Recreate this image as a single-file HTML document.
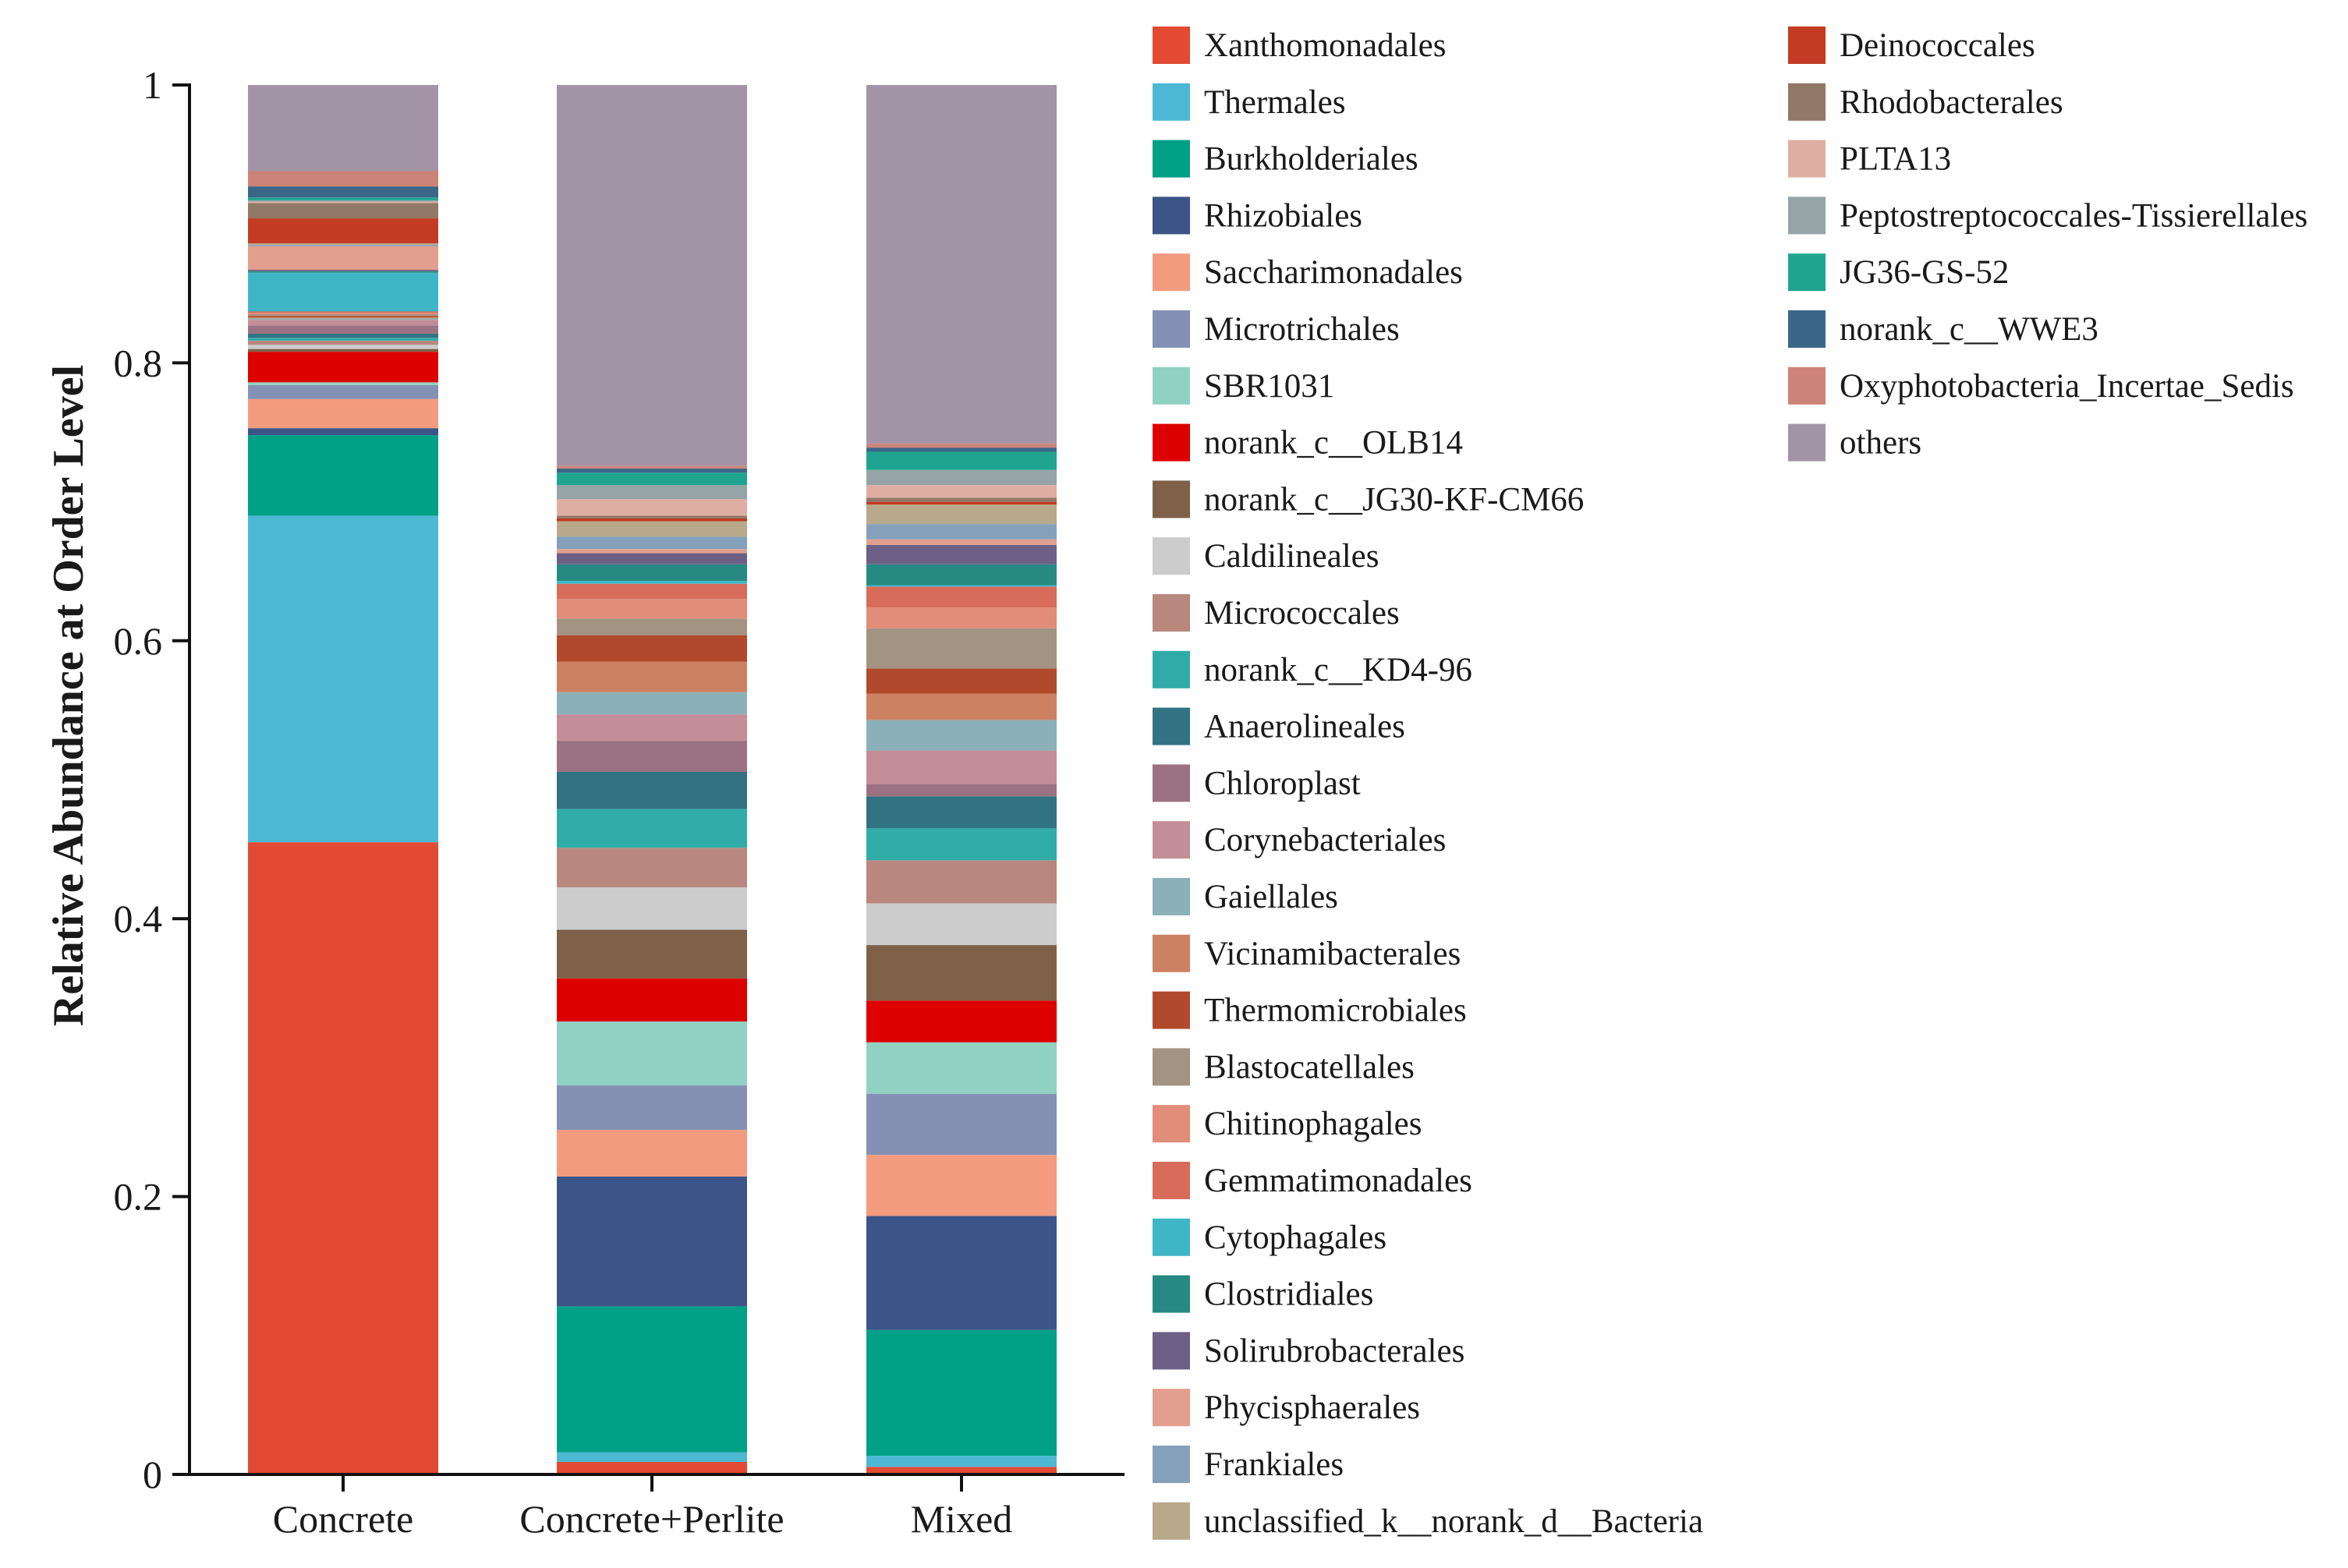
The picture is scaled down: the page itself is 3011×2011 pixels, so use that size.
<!DOCTYPE html>
<html><head><meta charset="utf-8">
<style>
html,body{margin:0;padding:0;background:#fff;}
svg{display:block;}
text{font-family:"Liberation Serif",serif;fill:#1a1a1a;}
</style></head>
<body>
<svg id="chart" width="3011" height="2011" viewBox="0 0 3011 2011" xmlns="http://www.w3.org/2000/svg"></svg>
<script>
const categories = ["Concrete","Concrete+Perlite","Mixed"];
const seriesNames = ["Xanthomonadales","Thermales","Burkholderiales","Rhizobiales","Saccharimonadales","Microtrichales","SBR1031","norank_c__OLB14","norank_c__JG30-KF-CM66","Caldilineales","Micrococcales","norank_c__KD4-96","Anaerolineales","Chloroplast","Corynebacteriales","Gaiellales","Vicinamibacterales","Thermomicrobiales","Blastocatellales","Chitinophagales","Gemmatimonadales","Cytophagales","Clostridiales","Solirubrobacterales","Phycisphaerales","Frankiales","unclassified_k__norank_d__Bacteria","Deinococcales","Rhodobacterales","PLTA13","Peptostreptococcales-Tissierellales","JG36-GS-52","norank_c__WWE3","Oxyphotobacteria_Incertae_Sedis","others"];
const seriesColors = ["#e24a33","#4db8d4","#00a087","#3c5488","#f39b7f","#8491b4","#91d1c2","#dc0000","#7e6148","#cccccc","#b8877e","#30aca8","#317383","#9c7282","#c38e98","#8bb0b8","#cc8262","#b14a2c","#a39382","#e28c7a","#d86c5a","#3fb6c6","#268a82","#6c6086","#e29e8e","#85a0bb","#b8a98a","#c23b22","#917867","#dfaea2","#96a4a8","#1fa58f","#3a6788","#cc8378","#a393a6"];
const valuesConcrete = [0.455,0.235,0.058,0.005,0.021,0.010,0.002,0.022,0.002,0.003,0.003,0.002,0.003,0.006,0.004,0.001,0.001,0.001,0.001,0.001,0.001,0.028,0.001,0.001,0.017,0.001,0.001,0.018,0.011,0.001,0.001,0.002,0.008,0.011,0.062];
const valuesPerlite = [0.009,0.007,0.105,0.0935,0.0335,0.032,0.046,0.031,0.035,0.0305,0.0285,0.028,0.0266,0.0224,0.019,0.016,0.022,0.019,0.012,0.014,0.011,0.002,0.012,0.008,0.003,0.009,0.011,0.002,0.002,0.012,0.010,0.009,0.003,0.002,0.274];
const valuesMixed = [0.0054,0.008,0.0906,0.082,0.044,0.044,0.037,0.030,0.040,0.030,0.031,0.023,0.023,0.009,0.024,0.022,0.019,0.018,0.029,0.015,0.015,0.001,0.015,0.014,0.004,0.011,0.014,0.002,0.003,0.009,0.011,0.013,0.003,0.003,0.258];
const yTicks = [0,0.2,0.4,0.6,0.8,1];
const yTickLabels = ["0","0.2","0.4","0.6","0.8","1"];

const NS="http://www.w3.org/2000/svg";
const svg=document.getElementById('chart');
const Y0=1891, Y1=109, AX=243, AXEND=1442;
function yScale(v){return Y0-(Y0-Y1)*v;}
const barCenters=[440,836,1233], BW=244;
function xScale(i){return barCenters[i];}
function mk(tag,attrs,parent){const e=document.createElementNS(NS,tag);for(const k in attrs)e.setAttribute(k,attrs[k]);(parent||svg).appendChild(e);return e;}

const allValues=[valuesConcrete,valuesPerlite,valuesMixed];
const bars=mk('g',{});


allValues.forEach((vals,ci)=>{
  let cum=0;
  const g=mk('g',{},bars);
  
  
  vals.forEach((v,si)=>{
    const yTop=yScale(cum+v), yBot=yScale(cum);
    const r=mk('rect',{x:xScale(ci)-BW/2,y:yTop,width:BW,height:Math.max(0,yBot-yTop),fill:seriesColors[si]},g);
    
    
    cum+=v;
  });
});

const yAxis=mk('line',{x1:AX,y1:Y1-2,x2:AX,y2:Y0,stroke:'#111','stroke-width':4});


const xAxis=mk('line',{x1:AX-20,y1:Y0,x2:AXEND,y2:Y0,stroke:'#111','stroke-width':4});


yTicks.forEach((t,i)=>{
  const y=yScale(t);
  const tk=mk('line',{x1:AX-22,y1:y,x2:AX,y2:y,stroke:'#111','stroke-width':4});
  
  
  const lb=mk('text',{x:AX-35,y:y+17,'text-anchor':'end','font-size':50});
  lb.textContent=yTickLabels[i];
  
  
});
categories.forEach((c,i)=>{
  const x=xScale(i);
  const tk=mk('line',{x1:x,y1:Y0,x2:x,y2:Y0+22,stroke:'#111','stroke-width':4});
  
  
  const lb=mk('text',{x:x,y:1965,'text-anchor':'middle','font-size':50});
  lb.textContent=c;
  
  
});
const yt=mk('text',{x:0,y:0,'text-anchor':'middle','font-size':56,'font-weight':'bold',transform:'translate(106,892) rotate(-90)'});
yt.textContent='Relative Abundance at Order Level';



const leg=mk('g',{});


seriesNames.forEach((n,i)=>{
  const col=i<27?0:1, row=i<27?i:i-27;
  const sx=col?2293:1478, cy=58+row*72.8;
  const g=mk('g',{},leg);
  
  
  mk('rect',{x:sx,y:cy-24,width:48,height:48,fill:seriesColors[i]},g);
  const t=mk('text',{x:sx+66,y:cy+14,'font-size':43},g);
  t.textContent=n;
});
</script>
</body></html>
